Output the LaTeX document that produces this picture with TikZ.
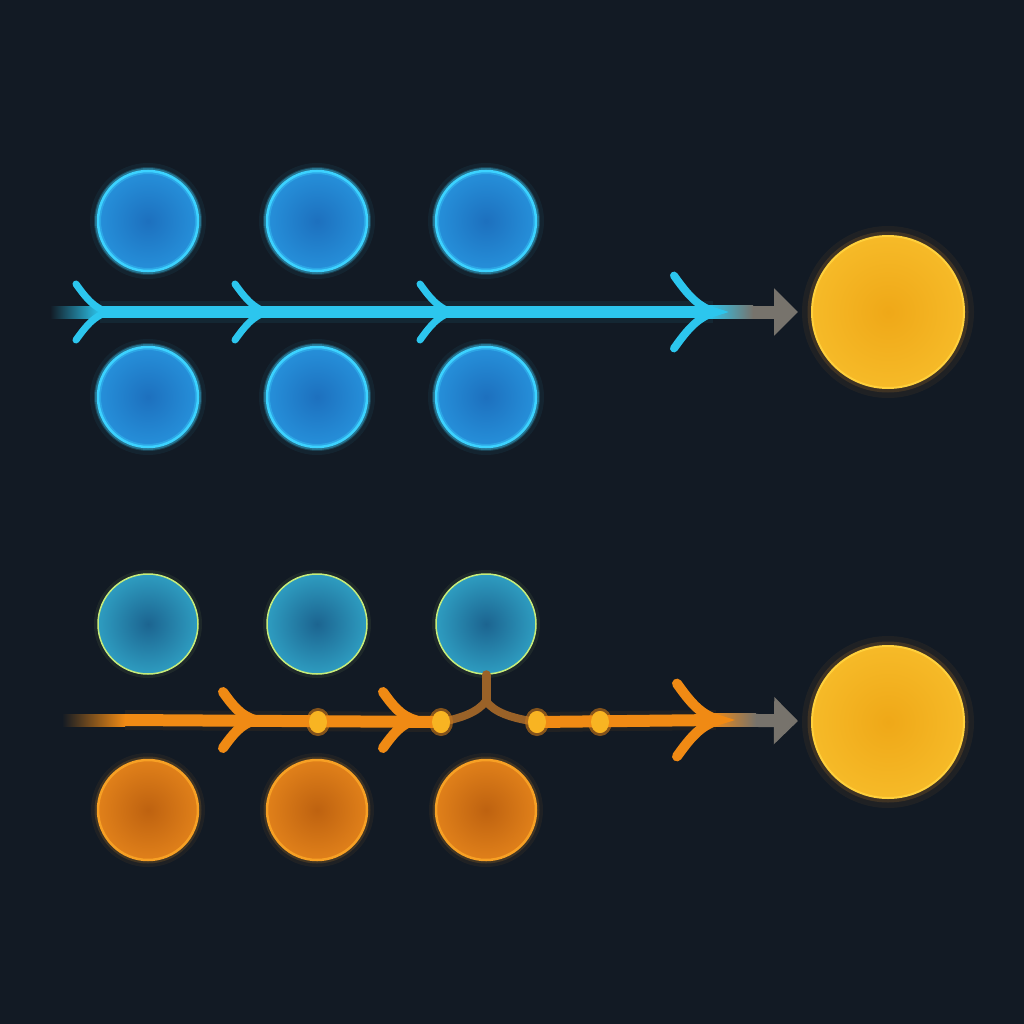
\documentclass[tikz,border=0pt]{standalone}
\usepackage{xcolor}
\usepackage{tikz}
\usetikzlibrary{calc}
\usetikzlibrary{arrows.meta}
\usetikzlibrary{positioning}
\usetikzlibrary{shapes.geometric}

\definecolor{bgcol}{HTML}{121A24}
\definecolor{blueline}{HTML}{2CC6EE}
\definecolor{bluein}{HTML}{1D70BE}
\definecolor{blueout}{HTML}{2690DA}
\definecolor{blueedge}{HTML}{3CD2FF}
\definecolor{tealin}{HTML}{1C6490}
\definecolor{tealout}{HTML}{2E9CC0}
\definecolor{tealedge}{HTML}{C6EC7A}
\definecolor{orangein}{HTML}{BE6210}
\definecolor{orangeout}{HTML}{E0801A}
\definecolor{orangeedge}{HTML}{F7A024}
\definecolor{orangeline}{HTML}{F08A14}
\definecolor{sunin}{HTML}{EFA818}
\definecolor{sunout}{HTML}{F6BA28}
\definecolor{sunedge}{HTML}{FFD03C}
\definecolor{dotcol}{HTML}{F8B422}
\definecolor{grayarrow}{HTML}{77736C}
\definecolor{forkcol}{HTML}{9A6228}

\begin{document}
\begin{tikzpicture}[x=1pt,y=-1pt]
% 1 = 1 pixel, y down
    \def\YBLUE{312}
    \def\YORANGE{720}
    \def\ROWONE{221} % blue, above
    \def\ROWTWO{397} % blue, below
    \def\ROWTHREE{624} % teal
    \def\ROWFOUR{810} % orange
    \def\XA{148}
    \def\XB{317}
    \def\XC{486}
    \def\XSUN{888}

    \tikzset{
      ball/.style={circle, minimum size=100pt, inner sep=0pt, line width=2.5pt},
      blueball/.style={ball, inner color=bluein, outer color=blueout, draw=blueedge,
        preaction={draw=blueedge, line width=16pt, opacity=0.06},
        preaction={draw=blueedge, line width=8pt, opacity=0.18},
        postaction={draw=blueedge, line width=6pt, opacity=0.35}},
      tealball/.style={ball, inner color=tealin, outer color=tealout, draw=tealedge,
        line width=1.5pt,
        preaction={draw=tealedge, line width=8pt, opacity=0.07}},
      orangeball/.style={ball, inner color=orangein, outer color=orangeout, draw=orangeedge,
        preaction={draw=orangeedge, line width=14pt, opacity=0.06},
        preaction={draw=orangeedge, line width=7pt, opacity=0.16}},
      sunball/.style={ball, minimum size=152pt, inner color=sunin, outer color=sunout,
        draw=sunedge, line width=2pt,
        preaction={draw=orangeedge, line width=20pt, opacity=0.06},
        preaction={draw=orangeedge, line width=9pt, opacity=0.15}},
      spark/.style={ellipse, minimum width=18pt, minimum height=22pt, inner sep=0pt,
        fill=dotcol, preaction={draw=orangeline, line width=6pt, opacity=0.3}},
      bluebeam/.style={draw=blueline, line width=12pt,
        preaction={draw=blueline, line width=22pt, opacity=0.08}},
      orangebeam/.style={draw=orangeline, line width=12pt,
        preaction={draw=orangeline, line width=20pt, opacity=0.07}},
      graybeam/.style={draw=grayarrow, line width=13pt, shorten >=13pt,
        -{Triangle[width=46pt,length=24pt]}},
      forkline/.style={draw=forkcol, line width=8pt, line cap=round},
      chevron/.pic={
        \path[pic actions, line cap=round] (-30,-28) .. controls (-20,-14) and (-12,-4) .. (2,0)
          .. controls (-12,4) and (-20,14) .. (-30,28);
      },
    }

    % BACKGROUND
    \fill [bgcol] (0,0) rectangle (1024,1024);
    \useasboundingbox (0,0) rectangle (1024,1024);

    % CIRCLES
    \foreach \cx [count=\i] in {\XA,\XB,\XC} {
      \node[blueball] (bu\i) at (\cx,\ROWONE) {};
      \node[blueball] (bl\i) at (\cx,\ROWTWO) {};
      \node[tealball] (t\i) at (\cx,\ROWTHREE) {};
      \node[orangeball] (o\i) at (\cx,\ROWFOUR) {};
    }

    % TARGETS
    \node[sunball] (sunA) at (\XSUN,\YBLUE) {};
    \node[sunball] (sunB) at (\XSUN,\YORANGE+2) {};

    % BLUE ARROW
    \coordinate (bstart) at (50,\YBLUE);
    \coordinate (bfade) at (100,\YBLUE);
    \coordinate (bend) at (713,\YBLUE);
    \shade [left color=bgcol, right color=blueline]
        ($(bstart)+(0,-6)$) rectangle ($(bfade)+(0,6)$);
    \draw [graybeam] (bend) -- (sunA);
    \shade [left color=blueline, right color=grayarrow]
        ($(bend)+(-4,-6.5)$) rectangle ($(bend)+(40,6.5)$);
    \draw [bluebeam] (bfade) -- (bend);
    \foreach \cx in {106,265,450} {
      \pic [draw=blueline, line width=7pt] at (\cx,\YBLUE) {chevron};
    }
    \pic [draw=blueline, line width=8pt, scale=1.3] at (bend) {chevron};

    % ORANGE ARROW
    \node[spark] (d1) at (318,\YORANGE+2) {};
    \node[spark] (d2) at (441,\YORANGE+2) {};
    \node[spark] (d3) at (537,\YORANGE+2) {};
    \node[spark] (d4) at (600,\YORANGE+2) {};
    \coordinate (ostart) at (62,\YORANGE);
    \coordinate (ofade) at (125,\YORANGE);
    \coordinate (oend) at (716,\YORANGE);
    \coordinate (fork) at (486,701);
    \shade [left color=bgcol, right color=orangeline]
        ($(ostart)+(0,-6)$) rectangle ($(ofade)+(0,6)$);
    \draw [graybeam] (oend) -- (sunB);
    \shade [left color=orangeline, right color=grayarrow]
        ($(oend)+(-4,-6.5)$) rectangle ($(oend)+(40,6.5)$);
    \draw [orangebeam] (ofade) -- (d2.center);
    \draw [orangebeam] (d3.center) -- (oend);
    % fork up to the third teal ball
    \draw [forkline] (d2.center) .. controls (462,718) and (478,712) .. (fork);
    \draw [forkline] (fork) .. controls (494,712) and (510,718) .. (d3.center);
    \draw [forkline, line width=9pt] (fork) -- (t3.south);
    \foreach \cx in {253,413} {
      \pic [draw=orangeline, line width=10pt] at (\cx,\YORANGE) {chevron};
    }
    \pic [draw=orangeline, line width=10pt, scale=1.3] at (oend) {chevron};
    \foreach \i in {1,...,4} {
      \node[spark] at (d\i) {};
    }

\end{tikzpicture}
\end{document}
